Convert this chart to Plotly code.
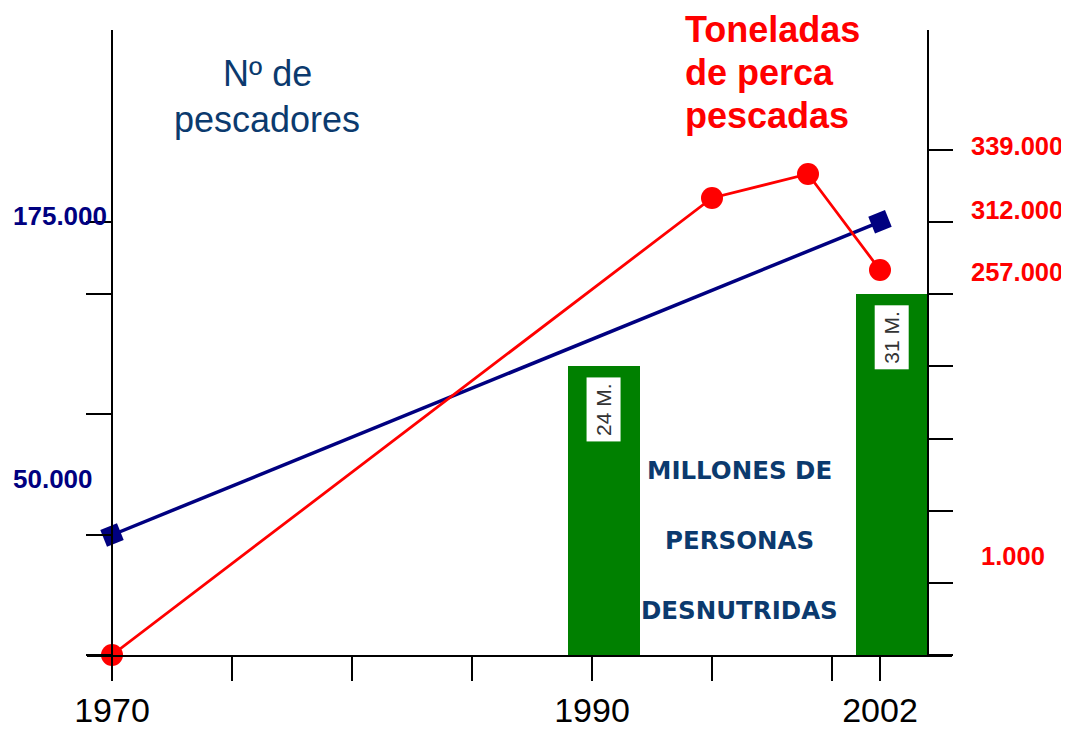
import plotly.graph_objects as go

# page is shown with an 8px body margin; work in reference pixels and convert
OFF = 8
FW, FH = 1069 - OFF, 729 - OFF


def px(xr):
    return (xr - OFF) / FW


def py(yr):
    return 1 - (yr - OFF) / FH


# ---- data ----
# Nº de pescadores (blue), heights in left-axis tick units
years_pesc = [1970, 2002]
pesc_height = [1.0, 3.61]
pesc_labels = ["50.000", "175.000"]

# Toneladas de perca pescadas (red), heights in right-axis tick units
years_ton = [1970, 1995, 1999, 2002]
ton_height = [0.0, 6.335, 6.668, 5.337]
ton_labels = ["1.000", "312.000", "339.000", "257.000"]

# Millones de personas desnutridas (green bars), heights in right-axis tick units
bar_years = [1990.5, 2002.5]
bar_height = [4.0, 5.0]
bar_labels = ["24 M.", "31 M."]

# axis ticks
x_ticks = [1970, 1975, 1980, 1985, 1990, 1995, 2000, 2002]
x_ticktext = ["1970", "", "", "", "1990", "", "", "2002"]
left_ticks = [0, 1, 2.008, 3.008, 3.608]
right_ticks = [0, 1, 2, 3, 4, 5, 6, 7]

# label positions (axis units)
pesc_label_y = [1.467, 3.66]
ton_label_y = [1.372, 6.168, 7.056, 5.309]

NAVY = "#000080"
DARKBLUE = "#0B3A6E"
RED = "#FF0000"
GREEN = "#008000"

fig = go.Figure()

fig.add_trace(go.Bar(
    x=bar_years, y=bar_height, width=[3.04, 3.0], yaxis="y2",
    marker=dict(color=GREEN, line=dict(width=0)), hoverinfo="skip",
))

fig.add_trace(go.Scatter(
    x=years_pesc, y=pesc_height, yaxis="y", mode="lines+markers",
    line=dict(color=NAVY, width=3.5),
    marker=dict(symbol="square", size=18, color=NAVY, angle=-22),
    cliponaxis=False,
))

fig.add_trace(go.Scatter(
    x=years_ton, y=ton_height, yaxis="y2", mode="lines+markers",
    line=dict(color=RED, width=2.8),
    marker=dict(symbol="circle", size=22, color=RED),
    cliponaxis=False,
))

ydom = [py(655), py(30)]

fig.update_layout(
    width=FW, height=FH,
    margin=dict(l=0, r=0, t=0, b=0, autoexpand=False),
    paper_bgcolor="white", plot_bgcolor="rgba(0,0,0,0)",
    showlegend=False,
    bargap=0,
    xaxis=dict(
        domain=[px(87), px(952)], range=[1970 - 25 / 24, 2005],
        automargin=False,
        showgrid=False, zeroline=False,
        showline=True, linecolor="black", linewidth=2,
        tickmode="array", tickvals=x_ticks, ticktext=x_ticktext,
        ticks="outside", ticklen=24, tickwidth=2, tickcolor="black",
        tickfont=dict(family="Liberation Sans", size=34, color="black"),
        ticklabelstandoff=0,
    ),
    yaxis=dict(
        domain=ydom, range=[0, 625 / 120],
        automargin=False,
        anchor="free", position=px(112),
        showgrid=False, zeroline=False,
        showline=True, linecolor="black", linewidth=2,
        tickmode="array", tickvals=left_ticks, showticklabels=False,
        ticks="outside", ticklen=25, tickwidth=2, tickcolor="black",
    ),
    yaxis2=dict(
        domain=ydom, range=[0, 625 / 72.14],
        automargin=False,
        overlaying="y", side="right",
        anchor="free", position=px(928),
        showgrid=False, zeroline=False,
        showline=True, linecolor="black", linewidth=2,
        tickmode="array", tickvals=right_ticks, showticklabels=False,
        ticks="outside", ticklen=24, tickwidth=2, tickcolor="black",
    ),
)

ann = []
# left labels
for lab, yv in zip(pesc_labels, pesc_label_y):
    ann.append(dict(x=px(11), xref="paper", xanchor="left", y=yv, yref="y",
                    yanchor="middle", text=f"<b>{lab}</b>", showarrow=False,
                    font=dict(family="Liberation Sans", size=26, color=NAVY)))
# right labels
for lab, yv in zip(ton_labels, ton_label_y):
    x0 = 979 if lab == "1.000" else 969
    ann.append(dict(x=px(x0), xref="paper", xanchor="left", y=yv, yref="y2",
                    yanchor="middle", text=f"<b>{lab}</b>", showarrow=False,
                    font=dict(family="Liberation Sans", size=25.5, color=RED)))
# bar labels
for xb, hb, lab in zip(bar_years, bar_height, bar_labels):
    ann.append(dict(x=xb, xref="x", y=hb, yref="y2", yanchor="top", yshift=-11,
                    text=lab, textangle=-90, showarrow=False, bgcolor="white",
                    borderpad=5,
                    font=dict(family="Liberation Sans", size=21, color="#333333")))


# titles
def title_line(text, x, y, anchor, size, color, bold, family):
    t = f"<b>{text}</b>" if bold else text
    return dict(x=px(x), y=py(y), xref="paper", yref="paper",
                xanchor=anchor, yanchor="middle", text=t, showarrow=False,
                font=dict(family=family, size=size, color=color))


ann.append(title_line("Nº de", 267, 74, "center", 36, DARKBLUE, False, "Liberation Sans"))
ann.append(title_line("pescadores", 267, 120, "center", 36, DARKBLUE, False, "Liberation Sans"))
ann.append(title_line("Toneladas", 683, 30, "left", 36, RED, True, "Liberation Sans"))
ann.append(title_line("de perca", 683, 73, "left", 36, RED, True, "Liberation Sans"))
ann.append(title_line("pescadas", 683, 116, "left", 36, RED, True, "Liberation Sans"))
for txt, yy in [("MILLONES DE", 470), ("PERSONAS", 540), ("DESNUTRIDAS", 610)]:
    ann.append(title_line(txt, 739, yy, "center", 24.5, DARKBLUE, True, "DejaVu Sans"))

fig.update_layout(annotations=ann)

fig.write_html("out.html")
